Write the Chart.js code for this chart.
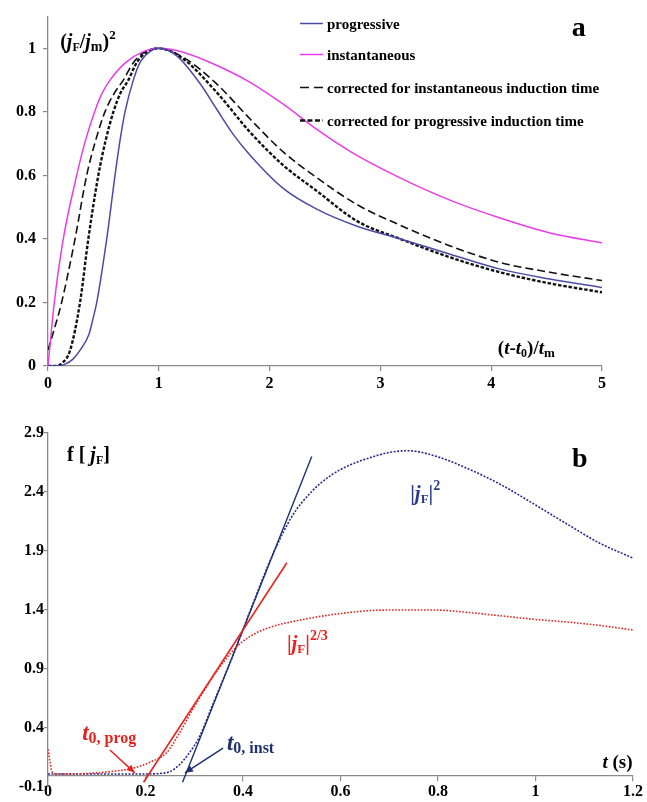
<!DOCTYPE html>
<html><head><meta charset="utf-8">
<script src="https://cdn.jsdelivr.net/npm/chart.js@4.4.1/dist/chart.umd.min.js"></script>
<style>
html,body{margin:0;padding:0;background:#fff;}
canvas{display:block;}
</style></head><body>
<canvas id="ca" width="647" height="400"></canvas>
<canvas id="cb" width="647" height="402"></canvas>
<script>
// ---------- Panel a data ----------
const progX = [0, 0.09, 0.15, 0.22, 0.29, 0.37, 0.40, 0.44, 0.53, 0.605, 0.65, 0.695, 0.77, 0.83, 0.92, 1.0, 1.16, 1.37, 1.52, 1.67, 1.82, 2.12, 2.43, 2.79, 3.18, 3.63, 4.08, 4.53, 5.0];
const progV = [0, 0.0, 0.005, 0.02, 0.05, 0.1, 0.14, 0.2, 0.4, 0.6, 0.71, 0.8, 0.9, 0.955, 0.99, 1.0, 0.977, 0.89, 0.81, 0.73, 0.665, 0.56, 0.493, 0.44, 0.40, 0.352, 0.305, 0.274, 0.247];

const instX = [0, 0.057, 0.138, 0.259, 0.33, 0.42, 0.49, 0.56, 0.70, 0.85, 1.0, 1.22, 1.52, 1.82, 2.12, 2.43, 2.73, 3.15, 3.65, 4.08, 4.53, 5.0];
const instV = [0, 0.2, 0.4, 0.6, 0.70, 0.8, 0.86, 0.9, 0.955, 0.988, 1.0, 0.988, 0.947, 0.894, 0.825, 0.744, 0.675, 0.597, 0.519, 0.466, 0.419, 0.388];

const corrInstX = [0, 0.06, 0.123, 0.244, 0.349, 0.43, 0.514, 0.60, 0.68, 0.77, 0.88, 1.0, 1.22, 1.52, 1.82, 2.12, 2.43, 2.79, 3.18, 3.63, 4.08, 4.53, 5.0];
const corrInstV = [0.05, 0.12, 0.2, 0.4, 0.6, 0.71, 0.8, 0.86, 0.9, 0.955, 0.99, 1.0, 0.972, 0.889, 0.779, 0.675, 0.592, 0.508, 0.443, 0.378, 0.326, 0.295, 0.269];

const corrProgX = [0, 0.063, 0.13, 0.2, 0.289, 0.364, 0.454, 0.52, 0.59, 0.655, 0.725, 0.80, 0.9, 1.0, 1.22, 1.52, 1.82, 2.12, 2.43, 2.79, 3.18, 3.63, 4.08, 4.53, 5.0];
const corrProgV = [0, 0, 0.01, 0.05, 0.2, 0.4, 0.6, 0.71, 0.8, 0.86, 0.9, 0.955, 0.99, 1.0, 0.967, 0.8625, 0.7375, 0.633, 0.55, 0.456, 0.40, 0.342, 0.295, 0.26, 0.232];

const xTicksA = [0, 1, 2, 3, 4, 5];
const xTickLabelsA = ['0', '1', '2', '3', '4', '5'];
const yTicksA = [0, 0.2, 0.4, 0.6, 0.8, 1];
const yTickLabelsA = ['0', '0.2', '0.4', '0.6', '0.8', '1'];
const legendLabelsA = ['progressive', 'instantaneous', 'corrected for instantaneous induction time', 'corrected for progressive induction time'];

// ---------- Panel b data ----------
const jf2T = [0, 0.05, 0.1, 0.15, 0.2, 0.23, 0.25, 0.27, 0.29, 0.31, 0.34, 0.38, 0.42, 0.46, 0.5, 0.54, 0.58, 0.62, 0.66, 0.70, 0.74, 0.79, 0.86, 0.93, 1.0, 1.06, 1.13, 1.2];
const jf2V = [0.01, 0.01, 0.01, 0.01, 0.01, 0.015, 0.03, 0.09, 0.19, 0.32, 0.62, 1.02, 1.45, 1.86, 2.19, 2.40, 2.54, 2.63, 2.69, 2.735, 2.75, 2.71, 2.60, 2.46, 2.29, 2.14, 1.97, 1.84];

const jf23T = [0, 0.004, 0.008, 0.02, 0.05, 0.086, 0.127, 0.175, 0.209, 0.243, 0.27, 0.30, 0.33, 0.36, 0.39, 0.42, 0.46, 0.5, 0.55, 0.6, 0.66, 0.72, 0.79, 0.86, 0.93, 1.0, 1.06, 1.13, 1.2];
const jf23V = [0.22, 0.12, 0.03, 0.01, 0.01, 0.016, 0.03, 0.06, 0.11, 0.19, 0.36, 0.58, 0.78, 0.96, 1.10, 1.19, 1.26, 1.30, 1.34, 1.37, 1.395, 1.40, 1.40, 1.38, 1.35, 1.32, 1.30, 1.27, 1.23];

const tangInstT = [0.276, 0.541];
const tangInstV = [-0.06, 2.70];
const tangProgT = [0.196, 0.49];
const tangProgV = [-0.06, 1.80];

const xTicksB = [0, 0.2, 0.4, 0.6, 0.8, 1, 1.2];
const xTickLabelsB = ['0', '0.2', '0.4', '0.6', '0.8', '1', '1.2'];
const yTicksB = [-0.1, 0.4, 0.9, 1.4, 1.9, 2.4, 2.9];
const yTickLabelsB = ['-0.1', '0.4', '0.9', '1.4', '1.9', '2.4', '2.9'];

// ---------- helpers ----------
const SERIF = '"Liberation Serif", "Times New Roman", serif';
const B = s => `bold ${s}px ${SERIF}`;
const BI = s => `italic bold ${s}px ${SERIF}`;
const pts = (xs, ys) => xs.map((x, i) => ({x: x, y: ys[i]}));
const AXIS = '#8a8a8a';

function drawRuns(ctx, x, y, runs, align) {
  let w = 0;
  runs.forEach(r => { ctx.font = r[1]; w += ctx.measureText(r[0]).width; });
  let cx = align === 'right' ? x - w : (align === 'center' ? x - w / 2 : x);
  ctx.textAlign = 'left';
  runs.forEach(r => {
    ctx.font = r[1];
    ctx.fillText(r[0], cx, y + (r[2] || 0));
    cx += ctx.measureText(r[0]).width;
  });
}
function arrow(ctx, x1, y1, x2, y2, color) {
  ctx.strokeStyle = color; ctx.fillStyle = color; ctx.lineWidth = 1.5;
  ctx.beginPath(); ctx.moveTo(x1, y1); ctx.lineTo(x2, y2); ctx.stroke();
  const a = Math.atan2(y2 - y1, x2 - x1), L = 8, W = 3.5;
  ctx.beginPath();
  ctx.moveTo(x2, y2);
  ctx.lineTo(x2 - L * Math.cos(a) + W * Math.sin(a), y2 - L * Math.sin(a) - W * Math.cos(a));
  ctx.lineTo(x2 - L * Math.cos(a) - W * Math.sin(a), y2 - L * Math.sin(a) + W * Math.cos(a));
  ctx.closePath(); ctx.fill();
}
function fixedTicks(vals) { return axis => { axis.ticks = vals.map(v => ({value: v})); }; }

const gridOpts = {display: true, drawOnChartArea: false, drawTicks: true, tickLength: 5, color: AXIS, lineWidth: 1.2};
const borderOpts = {display: true, color: AXIS, width: 1.3};

// ---------- Panel a ----------
const styleA = [
  {color: '#4b4ba6', width: 1.5, dash: []},
  {color: '#e83ce8', width: 1.5, dash: []},
  {color: '#111111', width: 1.6, dash: [8, 4]},
  {color: '#111111', width: 2.4, dash: [3.5, 1.8]}
];

const annotA = {
  id: 'annotA',
  afterDraw(chart) {
    const {ctx} = chart; const sx = chart.scales.x, sy = chart.scales.y;
    const px = v => sx.getPixelForValue(v), py = v => sy.getPixelForValue(v);
    ctx.save();
    ctx.fillStyle = '#000'; ctx.textBaseline = 'alphabetic';
    drawRuns(ctx, px(0.11), py(1.0), [['(', B(20)], ['j', BI(20)], ['F', B(12), 3], ['/', B(20)], ['j', BI(20)], ['m', B(14), 3], [')', B(20)], ['2', B(13), -9]]);
    drawRuns(ctx, px(4.06), py(0.0375), [['(', B(19)], ['t', BI(19)], ['-', B(19)], ['t', BI(19)], ['0', B(12), 3], [')/', B(19)], ['t', BI(19)], ['m', B(13), 3]]);
    ctx.font = B(28); ctx.textAlign = 'center'; ctx.fillText('a', px(4.79), py(1.04));
    const rows = [1.081, 0.981, 0.878, 0.775];
    legendLabelsA.forEach((lab, i) => {
      const st = styleA[i]; const yy = Math.round(py(rows[i])) + 0.5;
      ctx.save();
      ctx.strokeStyle = st.color; ctx.lineWidth = st.width; ctx.setLineDash(i === 3 ? [5, 2.5] : (i === 2 ? [9, 5] : []));
      ctx.beginPath(); ctx.moveTo(px(2.274), yy); ctx.lineTo(px(2.482), yy); ctx.stroke();
      ctx.restore();
      ctx.fillStyle = '#000'; ctx.font = B(15); ctx.textAlign = 'left';
      ctx.fillText(lab, px(2.518), yy + 5);
    });
    ctx.restore();
  }
};

new Chart(document.getElementById('ca'), {
  type: 'line',
  data: {
    datasets: [
      {label: legendLabelsA[0], data: pts(progX, progV)},
      {label: legendLabelsA[1], data: pts(instX, instV)},
      {label: legendLabelsA[2], data: pts(corrInstX, corrInstV)},
      {label: legendLabelsA[3], data: pts(corrProgX, corrProgV)}
    ].map((d, i) => Object.assign(d, {
      borderColor: styleA[i].color, borderWidth: styleA[i].width, borderDash: styleA[i].dash,
      pointRadius: 0, fill: false, cubicInterpolationMode: 'monotone'
    }))
  },
  options: {
    responsive: false, animation: false, events: [],
    layout: {padding: {top: 14, right: 45, bottom: 0, left: 0}},
    plugins: {legend: {display: false}, tooltip: {enabled: false}},
    scales: {
      x: {type: 'linear', min: 0, max: 5, afterBuildTicks: fixedTicks(xTicksA),
          afterFit: s => { s.height = 34; },
          ticks: {color: '#000', font: {family: SERIF, size: 16, weight: 'bold'}, padding: 3, maxRotation: 0,
                  callback: (v, i) => xTickLabelsA[i]},
          grid: gridOpts, border: borderOpts},
      y: {type: 'linear', min: 0, max: 1.1, afterBuildTicks: fixedTicks(yTicksA),
          afterFit: s => { s.width = 48; },
          ticks: {color: '#000', font: {family: SERIF, size: 16, weight: 'bold'}, padding: 7,
                  callback: (v, i) => yTickLabelsA[i]},
          grid: gridOpts, border: borderOpts}
    }
  },
  plugins: [annotA]
});

// ---------- Panel b ----------
const RED = '#e8231f', NAVY = '#2a2a8e', DARKB = '#1e3270', LBLUE = '#2b3c8c';
const annotB = {
  id: 'annotB',
  afterDraw(chart) {
    const {ctx} = chart; const sx = chart.scales.x, sy = chart.scales.y;
    const px = v => sx.getPixelForValue(v), py = v => sy.getPixelForValue(v);
    ctx.save(); ctx.textBaseline = 'alphabetic';
    ctx.fillStyle = '#000';
    drawRuns(ctx, px(0.039), py(2.663), [['f [ ', B(20)], ['j', BI(20)], ['F', B(12), 3], [']', B(20)]]);
    ctx.font = B(28); ctx.textAlign = 'center'; ctx.fillText('b', px(1.091), py(2.612));
    drawRuns(ctx, px(1.199), py(0.061), [['t', BI(19)], [' (s)', B(19)]], 'right');
    ctx.fillStyle = LBLUE;
    drawRuns(ctx, px(0.743), py(2.332), [['|', B(21)], ['j', BI(21)], ['F', B(13), 3], ['|', B(21)], ['2', B(14), -10]]);
    ctx.fillStyle = RED;
    drawRuns(ctx, px(0.49), py(1.061), [['|', B(21)], ['j', BI(21)], ['F', B(13), 3], ['|', B(21)], ['2/3', B(14), -10]]);
    drawRuns(ctx, px(0.07), py(0.298), [['t', BI(23)], ['0, prog', B(16), 3]]);
    ctx.fillStyle = DARKB;
    drawRuns(ctx, px(0.367), py(0.214), [['t', BI(23)], ['0, inst', B(16), 3]]);
    arrow(ctx, px(0.127), py(0.214), px(0.178), py(0.02), RED);
    arrow(ctx, px(0.359), py(0.23), px(0.281), py(0.02), DARKB);
    ctx.restore();
  }
};

new Chart(document.getElementById('cb'), {
  type: 'line',
  data: {
    datasets: [
      {data: pts(tangProgT, tangProgV), borderColor: RED, borderWidth: 1.6, borderDash: []},
      {data: pts(jf23T, jf23V), borderColor: RED, borderWidth: 1.6, borderDash: [1.6, 1.6], cubicInterpolationMode: 'monotone'},
      {data: pts(tangInstT, tangInstV), borderColor: DARKB, borderWidth: 1.4, borderDash: []},
      {data: pts(jf2T, jf2V), borderColor: NAVY, borderWidth: 1.6, borderDash: [2, 1.5], cubicInterpolationMode: 'monotone'}
    ].map(d => Object.assign(d, {pointRadius: 0, fill: false})),
  },
  options: {
    responsive: false, animation: false, events: [],
    layout: {padding: {top: 33, right: 14, bottom: 15, left: 0}},
    plugins: {legend: {display: false}, tooltip: {enabled: false}},
    scales: {
      x: {type: 'linear', min: 0, max: 1.2, position: {y: 0}, afterBuildTicks: fixedTicks(xTicksB),
          ticks: {color: '#000', font: {family: SERIF, size: 16, weight: 'bold'}, padding: 2, maxRotation: 0,
                  callback: (v, i) => xTickLabelsB[i]},
          grid: gridOpts, border: borderOpts},
      y: {type: 'linear', min: -0.1, max: 2.9, afterBuildTicks: fixedTicks(yTicksB),
          afterFit: s => { s.width = 48; },
          ticks: {color: '#000', font: {family: SERIF, size: 16, weight: 'bold'}, padding: 0,
                  callback: (v, i) => yTickLabelsB[i]},
          grid: Object.assign({}, gridOpts, {tickLength: 4}), border: borderOpts}
    }
  },
  plugins: [annotB]
});
</script>
</body></html>
